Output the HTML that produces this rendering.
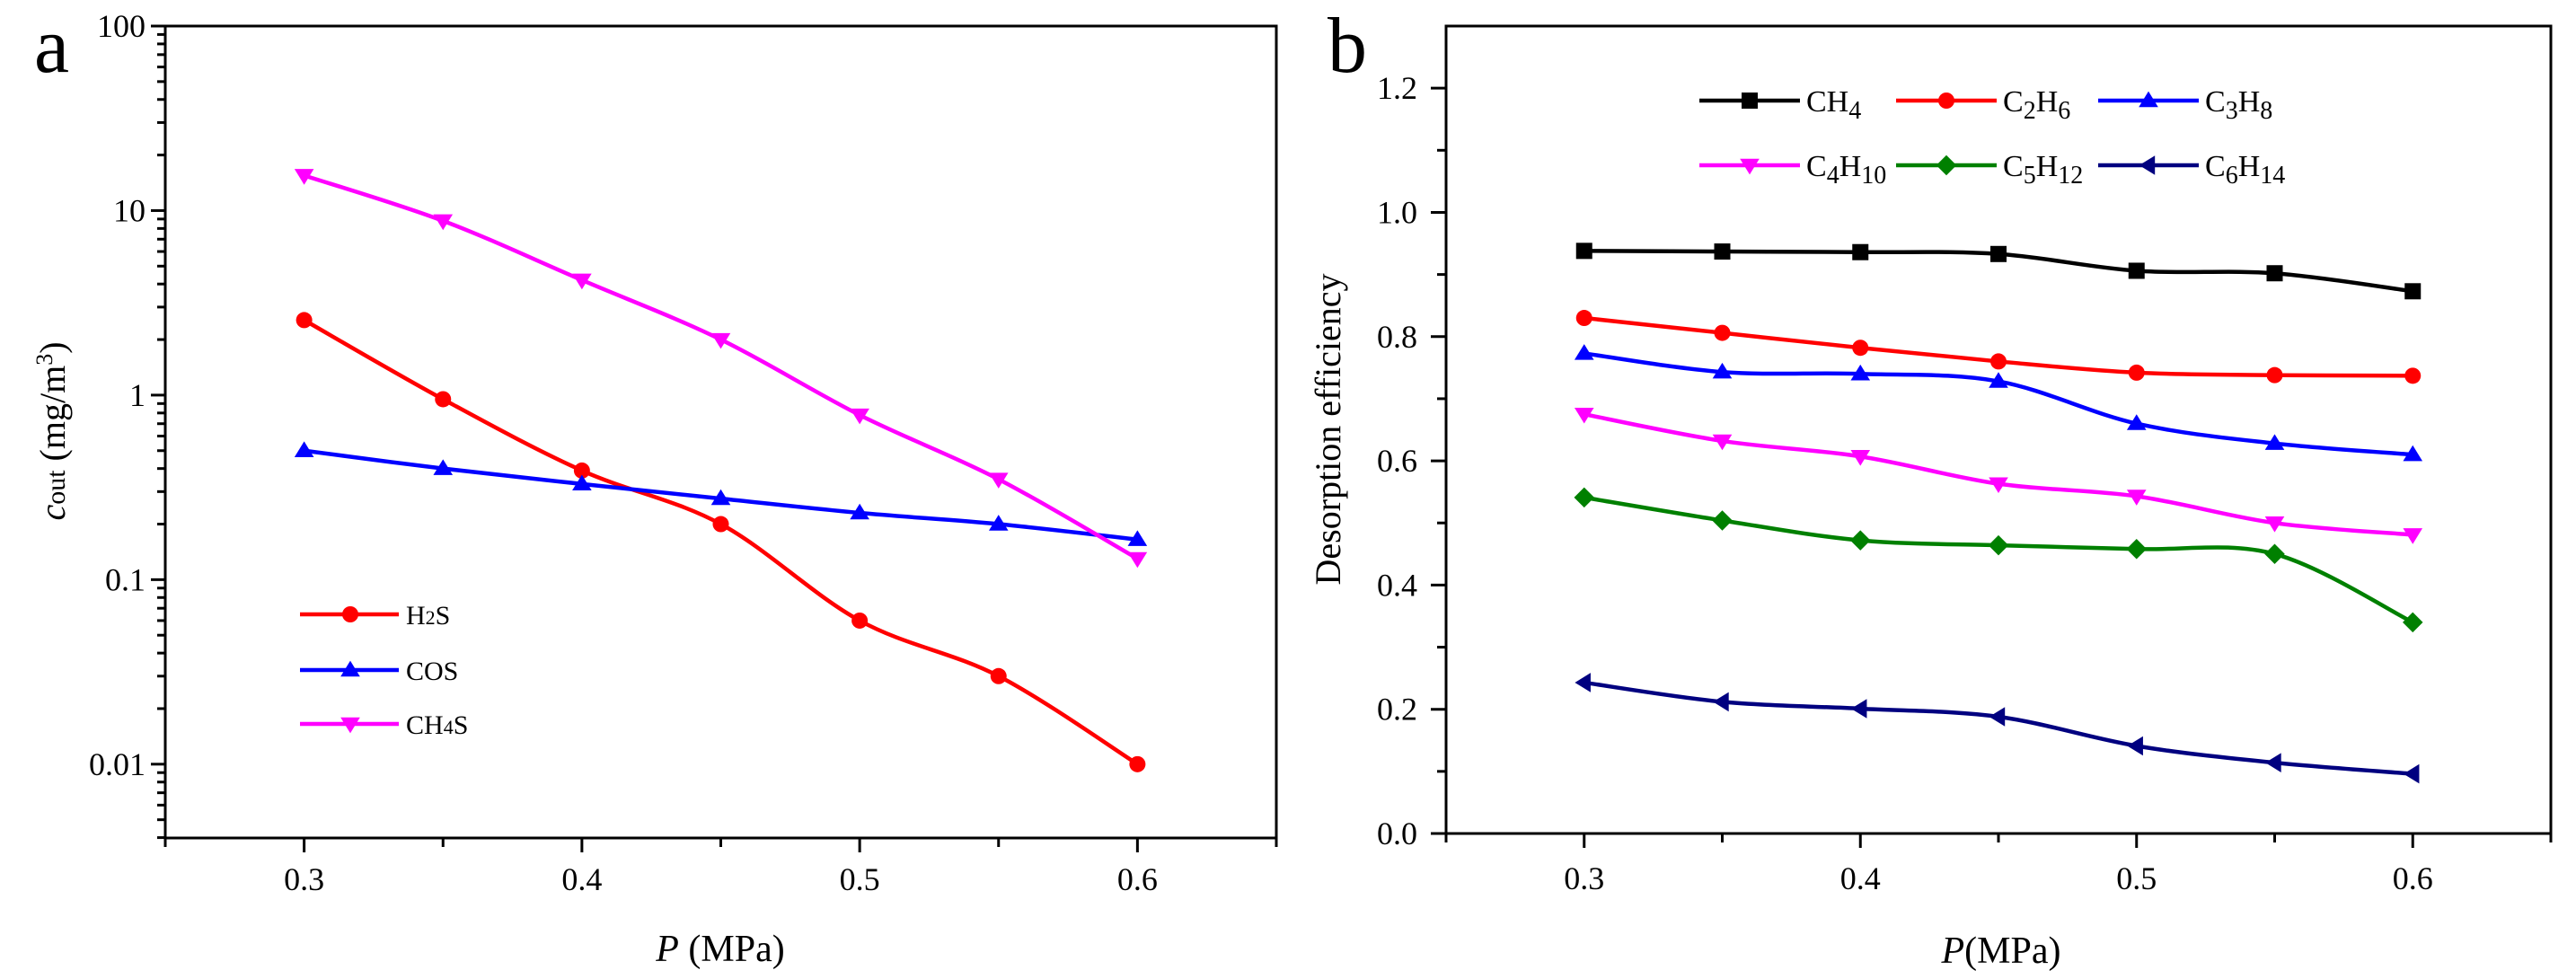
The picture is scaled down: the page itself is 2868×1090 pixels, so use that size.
<!DOCTYPE html>
<html><head><meta charset="utf-8"><style>
html,body{margin:0;padding:0;background:#fff;}
svg{display:block;font-family:"Liberation Serif",serif;}
</style></head><body>
<svg id="chart" width="2868" height="1090" viewBox="0 0 2868 1090" xmlns="http://www.w3.org/2000/svg">
<g id="pa"></g>
<g id="pb"></g>
</svg>
<script>
// ---- data ----
const pressures = [0.3, 0.35, 0.4, 0.45, 0.5, 0.55, 0.6];
const xTicks = [0.3, 0.4, 0.5, 0.6];
const xTickLabels = ["0.3", "0.4", "0.5", "0.6"];
// panel a
const aSeriesNames = ["H2S", "COS", "CH4S"];
const h2sValues = [2.55, 0.95, 0.39, 0.2, 0.06, 0.03, 0.01];
const cosValues = [0.5, 0.4, 0.33, 0.275, 0.23, 0.2, 0.165];
const ch4sValues = [15.5, 8.8, 4.2, 2.0, 0.78, 0.35, 0.13];
const aYTicks = [0.01, 0.1, 1, 10, 100];
const aYTickLabels = ["0.01", "0.1", "1", "10", "100"];
// panel b
const bSeriesNames = ["CH4", "C2H6", "C3H8", "C4H10", "C5H12", "C6H14"];
const ch4Values = [0.938, 0.937, 0.936, 0.933, 0.906, 0.902, 0.873];
const c2h6Values = [0.830, 0.806, 0.782, 0.760, 0.742, 0.738, 0.737];
const c3h8Values = [0.773, 0.743, 0.740, 0.728, 0.660, 0.628, 0.610];
const c4h10Values = [0.675, 0.632, 0.607, 0.563, 0.543, 0.500, 0.481];
const c5h12Values = [0.541, 0.504, 0.472, 0.464, 0.458, 0.450, 0.340];
const c6h14Values = [0.243, 0.212, 0.201, 0.188, 0.141, 0.114, 0.096];
const bYTicks = [0, 0.2, 0.4, 0.6, 0.8, 1.0, 1.2];
const bYTickLabels = ["0.0", "0.2", "0.4", "0.6", "0.8", "1.0", "1.2"];

const NS = "http://www.w3.org/2000/svg";
function mk(parent, tag, attrs, text) {
  const e = document.createElementNS(NS, tag);
  for (const k in attrs) e.setAttribute(k, attrs[k]);
  if (text !== undefined) e.textContent = text;
  parent.appendChild(e);
  return e;
}
function smoothPath(pts) {
  let d = "M" + pts[0][0] + "," + pts[0][1];
  for (let i = 0; i < pts.length - 1; i++) {
    const p0 = pts[Math.max(0, i - 1)], p1 = pts[i], p2 = pts[i + 1], p3 = pts[Math.min(pts.length - 1, i + 2)];
    const c1x = p1[0] + (p2[0] - p0[0]) / 6, c1y = p1[1] + (p2[1] - p0[1]) / 6;
    const c2x = p2[0] - (p3[0] - p1[0]) / 6, c2y = p2[1] - (p3[1] - p1[1]) / 6;
    d += " C" + c1x + "," + c1y + " " + c2x + "," + c2y + " " + p2[0] + "," + p2[1];
  }
  return d;
}
function marker(g, type, x, y, color, s) {
  let el;
  if (type === "circle") el = mk(g, "circle", {cx: x, cy: y, r: s, fill: color});
  else if (type === "square") el = mk(g, "rect", {x: x - s, y: y - s, width: 2 * s, height: 2 * s, fill: color});
  else if (type === "up") el = mk(g, "polygon", {points: `${x},${y - s * 1.15} ${x - s * 1.2},${y + s * 0.8} ${x + s * 1.2},${y + s * 0.8}`, fill: color});
  else if (type === "down") el = mk(g, "polygon", {points: `${x},${y + s * 1.15} ${x - s * 1.2},${y - s * 0.8} ${x + s * 1.2},${y - s * 0.8}`, fill: color});
  else if (type === "diamond") el = mk(g, "polygon", {points: `${x},${y - s * 1.25} ${x + s * 1.25},${y} ${x},${y + s * 1.25} ${x - s * 1.25},${y}`, fill: color});
  else if (type === "left") el = mk(g, "polygon", {points: `${x - s * 1.15},${y} ${x + s * 0.8},${y - s * 1.2} ${x + s * 0.8},${y + s * 1.2}`, fill: color});
  return el;
}

// ---------------- Panel A ----------------
(function () {
  const g = document.getElementById("pa");
  const L = 184, R = 1421, T = 29, B = 933;
  const xmin = 0.25, xmax = 0.65, lmin = -2.4, lmax = 2;
  const xs = v => L + (v - xmin) / (xmax - xmin) * (R - L);
  const ys = v => B - (Math.log10(v) - lmin) / (lmax - lmin) * (B - T);
  const frame = mk(g, "rect", {x: L, y: T, width: R - L, height: B - T, fill: "none", stroke: "#000", "stroke-width": 3});
  
  
  // x ticks
  for (let v = 0.25; v <= 0.6501; v += 0.05) {
    const major = Math.abs(Math.round(v * 10) - v * 10) < 1e-6;
    mk(g, "line", {x1: xs(v), x2: xs(v), y1: B, y2: B + (major ? 16 : 10), stroke: "#000", "stroke-width": 3});
  }
  xTicks.forEach((v, i) => {
    const t = mk(g, "text", {x: xs(v), y: B + 58, "font-size": 36, "text-anchor": "middle"}, xTickLabels[i]);
    
    
  });
  // y ticks
  for (let e = -3; e <= 2; e++) {
    for (let m = 1; m <= 9; m++) {
      const v = m * Math.pow(10, e);
      const lv = Math.log10(v);
      if (lv < lmin - 1e-9 || lv > lmax + 1e-9) continue;
      mk(g, "line", {x1: L, x2: L - (m === 1 ? 16 : 9), y1: ys(v), y2: ys(v), stroke: "#000", "stroke-width": 3});
    }
  }
  aYTicks.forEach((v, i) => {
    const t = mk(g, "text", {x: L - 22, y: ys(v) + 12, "font-size": 36, "text-anchor": "end"}, aYTickLabels[i]);
    
    
  });
  const yl = mk(g, "text", {transform: "translate(72,480) rotate(-90)", "font-size": 40, "text-anchor": "middle"});
  
  
  yl.innerHTML = '<tspan font-style="italic">c</tspan><tspan font-size="30">out</tspan> (mg/m<tspan font-size="26" dy="-14">3</tspan><tspan dy="14">)</tspan>';
  const xl = mk(g, "text", {x: 802, y: 1070, "font-size": 42, "text-anchor": "middle"});
  
  
  xl.innerHTML = '<tspan font-style="italic">P</tspan> (MPa)';
  const lab = mk(g, "text", {x: 38, y: 80, "font-size": 88}, "a");
  
  

  const series = [[h2sValues, "#ff0000", "circle"], [cosValues, "#0000ff", "up"], [ch4sValues, "#ff00ff", "down"]];
  series.forEach((s, si) => {
    const sg = mk(g, "g", {});
    
    
    const pts = pressures.map((p, i) => [xs(p), ys(s[0][i])]);
    mk(sg, "path", {d: smoothPath(pts), fill: "none", stroke: s[1], "stroke-width": 4.5});
    pts.forEach(pt => {
      const m = marker(sg, s[2], pt[0], pt[1], s[1], 9);
      
      
    });
  });
  // legend
  const legY = [684, 746, 806];
  const legLabels = ['H<tspan font-size="22">2</tspan>S', 'COS', 'CH<tspan font-size="22">4</tspan>S'];
  series.forEach((s, i) => {
    const lg = mk(g, "g", {});
    
    
    mk(lg, "line", {x1: 334, x2: 444, y1: legY[i], y2: legY[i], stroke: s[1], "stroke-width": 4.5});
    marker(lg, s[2], 390, legY[i], s[1], 9);
    const t = mk(lg, "text", {x: 452, y: legY[i] + 11, "font-size": 30});
    t.innerHTML = legLabels[i];
  });
})();

// ---------------- Panel B ----------------
(function () {
  const g = document.getElementById("pb");
  const L = 1610, R = 2840, T = 29, B = 928;
  const xmin = 0.25, xmax = 0.65, ymin = 0, ymax = 1.3;
  const xs = v => L + (v - xmin) / (xmax - xmin) * (R - L);
  const ys = v => B - (v - ymin) / (ymax - ymin) * (B - T);
  const frame = mk(g, "rect", {x: L, y: T, width: R - L, height: B - T, fill: "none", stroke: "#000", "stroke-width": 3});
  
  
  for (let v = 0.25; v <= 0.6501; v += 0.05) {
    const major = Math.abs(Math.round(v * 10) - v * 10) < 1e-6;
    mk(g, "line", {x1: xs(v), x2: xs(v), y1: B, y2: B + (major ? 16 : 10), stroke: "#000", "stroke-width": 3});
  }
  xTicks.forEach((v, i) => {
    const t = mk(g, "text", {x: xs(v), y: B + 62, "font-size": 36, "text-anchor": "middle"}, xTickLabels[i]);
    
    
  });
  for (let k = 0; k <= 12; k++) {
    const v = k * 0.1;
    mk(g, "line", {x1: L, x2: L - (k % 2 === 0 ? 17 : 10), y1: ys(v), y2: ys(v), stroke: "#000", "stroke-width": 3});
  }
  bYTicks.forEach((v, i) => {
    const t = mk(g, "text", {x: L - 32, y: ys(v) + 12, "font-size": 36, "text-anchor": "end"}, bYTickLabels[i]);
    
    
  });
  const yl = mk(g, "text", {transform: "translate(1492,478) rotate(-90)", "font-size": 40, "text-anchor": "middle"}, "Desorption efficiency");
  
  
  const xl = mk(g, "text", {x: 2228, y: 1072, "font-size": 42, "text-anchor": "middle"});
  
  
  xl.innerHTML = '<tspan font-style="italic">P</tspan>(MPa)';
  const lab = mk(g, "text", {x: 1478, y: 80, "font-size": 88}, "b");
  
  

  const series = [
    [ch4Values, "#000000", "square"], [c2h6Values, "#ff0000", "circle"], [c3h8Values, "#0000ff", "up"],
    [c4h10Values, "#ff00ff", "down"], [c5h12Values, "#008000", "diamond"], [c6h14Values, "#000080", "left"]
  ];
  series.forEach((s, si) => {
    const sg = mk(g, "g", {});
    
    
    const pts = pressures.map((p, i) => [xs(p), ys(s[0][i])]);
    mk(sg, "path", {d: smoothPath(pts), fill: "none", stroke: s[1], "stroke-width": 4.5});
    pts.forEach(pt => {
      const m = marker(sg, s[2], pt[0], pt[1], s[1], 9);
      
      
    });
  });
  const legX = [1892, 2111, 2336];
  const legY = [112, 184];
  const legLabels = [
    'CH<tspan font-size="28" dy="8">4</tspan>', 'C<tspan font-size="28" dy="8">2</tspan><tspan dy="-8">H</tspan><tspan font-size="28" dy="8">6</tspan>',
    'C<tspan font-size="28" dy="8">3</tspan><tspan dy="-8">H</tspan><tspan font-size="28" dy="8">8</tspan>',
    'C<tspan font-size="28" dy="8">4</tspan><tspan dy="-8">H</tspan><tspan font-size="28" dy="8">10</tspan>',
    'C<tspan font-size="28" dy="8">5</tspan><tspan dy="-8">H</tspan><tspan font-size="28" dy="8">12</tspan>',
    'C<tspan font-size="28" dy="8">6</tspan><tspan dy="-8">H</tspan><tspan font-size="28" dy="8">14</tspan>'
  ];
  series.forEach((s, i) => {
    const lx = legX[i % 3], ly = legY[Math.floor(i / 3)];
    const lg = mk(g, "g", {});
    
    
    mk(lg, "line", {x1: lx, x2: lx + 112, y1: ly, y2: ly, stroke: s[1], "stroke-width": 4.5});
    marker(lg, s[2], lx + 56, ly, s[1], 9);
    const t = mk(lg, "text", {x: lx + 119, y: ly + 12, "font-size": 34});
    t.innerHTML = legLabels[i];
  });
})();
</script>
</body></html>
